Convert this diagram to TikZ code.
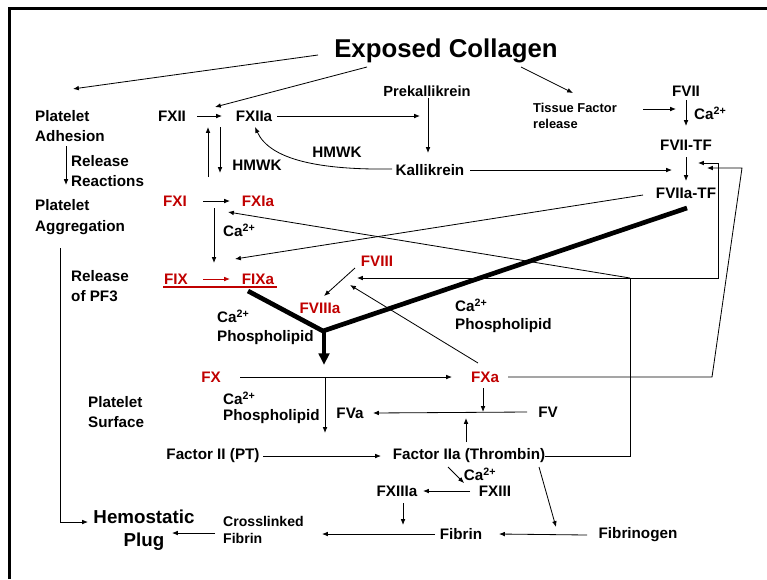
\documentclass[tikz,border=0pt]{standalone}
\usepackage{fontspec}
\setmainfont{Liberation Sans}
\usepackage{tikz}
\usetikzlibrary{arrows.meta}
\definecolor{fred}{RGB}{192,0,0}
\newcommand{\caion}{Ca\textsuperscript{2+}}

\begin{document}
\begin{tikzpicture}[x=0.03cm, y=-0.03cm,
	lbl/.style={font=\bfseries\fontsize{13}{17.5}\selectfont, inner sep=0pt, align=left},
	fac/.style={lbl, text=fred},
	arr/.style={-{Latex[length=5pt,width=4pt]}, line width=0.7pt},
	heavy/.style={line width=4pt, line join=miter},
	bigarr/.style={-{Triangle[length=10pt,width=9pt]}, line width=3.5pt}]
	\useasboundingbox (0,0) rectangle (767,579);
	\draw[line width=2.6pt] (9.5,579) -- (9.5,8.5) -- (767,8.5);

	\node[lbl, font=\bfseries\fontsize{22}{26}\selectfont] (coll) at (446,51) {Exposed Collagen};
	\node[lbl, anchor=west] (padh) at (35,126) {Platelet\\Adhesion};
	\node[lbl, anchor=west] (rel) at (71,171) {Release\\Reactions};
	\node[lbl, anchor=west] (pagg) at (35,217) {Platelet\\Aggregation};
	\node[lbl, anchor=west] (pf3) at (71,286) {Release\\of PF3};
	\node[lbl, anchor=west] (psurf) at (88,412) {Platelet\\Surface};
	\node[lbl, align=center, font=\bfseries\fontsize{16}{19.6}\selectfont] (plug) at (144,530) {Hemostatic\\Plug};
	\node[lbl, anchor=west, font=\bfseries\fontsize{12}{14.5}\selectfont] (xfib) at (223,530) {Crosslinked\\Fibrin};

	\node[lbl] (fxii) at (172,116) {FXII};
	\node[lbl] (fxiia) at (254,116) {FXIIa};
	\node[lbl, font=\bfseries\fontsize{12.5}{15}\selectfont] (prek) at (427,91) {Prekallikrein};
	\node[lbl] (kall) at (430,170) {Kallikrein};
	\node[lbl] (hmwka) at (257,165) {HMWK};
	\node[lbl] (hmwkb) at (337,152) {HMWK};
	\node[lbl, anchor=west, font=\bfseries\fontsize{11}{13.7}\selectfont] (tf) at (533,116) {Tissue Factor\\release};
	\node[lbl] (fvii) at (686,91) {FVII};
	\node[lbl, anchor=west] (caa) at (694,113) {\caion};
	\node[lbl] (fviitf) at (686,145) {FVII-TF};
	\node[lbl] (fviiatf) at (686,193) {FVIIa-TF};

	\node[fac] (fxi) at (175,201) {FXI};
	\node[fac] (fxia) at (258,201) {FXIa};
	\node[lbl, anchor=west] (cab) at (223,230) {\caion};
	\node[fac] (fix) at (176,279) {FIX};
	\node[fac] (fixa) at (258,279) {FIXa};
	\node[fac] (fviii) at (377,261) {FVIII};
	\node[fac] (fviiia) at (320,308) {FVIIIa};
	\node[lbl, anchor=west, font=\bfseries\fontsize{13}{16.2}\selectfont] (cpa) at (217,327) {\caion\\Phospholipid};
	\node[lbl, anchor=west, font=\bfseries\fontsize{13}{15.4}\selectfont] (cpb) at (455,316) {\caion\\Phospholipid};

	\node[fac] (fx) at (211,377) {FX};
	\node[fac] (fxa) at (485,377) {FXa};
	\node[lbl, anchor=west, font=\bfseries\fontsize{13}{13.7}\selectfont] (cpc) at (223,408) {\caion\\Phospholipid};
	\node[lbl] (fva) at (350,413) {FVa};
	\node[lbl] (fv) at (548,412) {FV};
	\node[lbl] (fii) at (213,456) {Factor II (PT)};
	\node[lbl] (fiia) at (469,456) {Factor IIa (Thrombin)};
	\node[lbl] (cac) at (480,474) {\caion};
	\node[lbl] (fxiii) at (495,491) {FXIII};
	\node[lbl] (fxiiia) at (397,491) {FXIIIa};
	\node[lbl] (fibrin) at (461,534) {Fibrin};
	\node[lbl] (fbgn) at (638,535) {Fibrinogen};

	\coordinate (thr) at (630,278);
	\coordinate (tenase) at (323,331);

	\draw[arr] ([shift={(-128,4)}]coll.center) -- ([shift={(38,-21)}]padh.north west);
	\draw[arr] ([shift={(-79,16)}]coll.center) -- ([shift={(43,-9)}]fxii.center);
	\draw[arr] ([shift={(75,16)}]coll.center) -- ([shift={(40,-23)}]tf.west);
	\draw[arr] ([shift={(31,20)}]padh.west) -- ([shift={(31,-32)}]pagg.west);
	\draw[arr] ([shift={(25,31)}]pagg.west) |- ([shift={(-56,-8)}]plug.center);

	\draw[arr] ([shift={(25,0)}]fxii.center) -- ([shift={(-32,0)}]fxiia.center);
	\draw[arr] ([shift={(33,-24)}]fxi.center) -- ([shift={(36,11)}]fxii.center);
	\draw[arr] ([shift={(-34,11)}]fxiia.center) -- ([shift={(-38,-28)}]fxia.center);
	\draw[arr] ([shift={(23,0)}]fxiia.center) -- ([shift={(-7,25)}]prek.center);
	\draw[arr] ([shift={(1,7)}]prek.center) -- ([shift={(-2,-17)}]kall.center);
	\draw[arr] ([shift={(-38,-1)}]kall.center) .. controls (320,170) and (270,160) .. ([shift={(1,11)}]fxiia.center);
	\draw[arr] ([shift={(40,0)}]kall.center) -- ([shift={(-14,-23)}]fviiatf.center);

	\draw[arr] ([shift={(110,-7)}]tf.west) -- ([shift={(-10,18)}]fvii.center);
	\draw[arr] ([shift={(0,9)}]fvii.center) -- ([shift={(0,-19)}]fviitf.center);
	\draw[arr] ([shift={(0,12)}]fviitf.center) -- ([shift={(0,-12)}]fviiatf.center);

	\draw[arr] ([shift={(28,0)}]fxi.center) -- ([shift={(-28,0)}]fxia.center);
	\draw[arr] ([shift={(-44,7)}]fxia.center) -- ([shift={(38,-16)}]fix.center);
	\draw[arr] ([shift={(-43,2)}]fviiatf.center) -- ([shift={(-23,-20)}]fixa.center);
	\draw[arr, fred] ([shift={(27,0)}]fix.center) -- ([shift={(-28,0)}]fixa.center);
	\draw[fred, line width=1.1pt] ([shift={(-13,8)}]fix.center) -- ([shift={(19,8)}]fixa.center);

	\draw[line width=0.7pt] (fiia.east) -| (thr);
	\draw[arr] (thr) -- ([shift={(-30,11)}]fxia.center);
	\draw[arr] (thr) -- ([shift={(-20,17)}]fviii.center);
	\draw[arr] (thr) -- ++(88,0) |- ([shift={(12,18)}]fviitf.center);
	\draw[arr] ([shift={(23,0)}]fxa.center) -- ++(204,0) -- ++(30,-209) -- ([shift={(21,23)}]fviitf.center);
	\draw[arr] ([shift={(-7,-14)}]fxa.center) -- ([shift={(-27,24)}]fviii.center);
	\draw[arr] ([shift={(-22,7)}]fviii.center) -- ([shift={(4,-12)}]fviiia.center);

	\draw[heavy] ([shift={(-10,12)}]fixa.center) -- (tenase) -- ([shift={(1,15)}]fviiatf.center);
	\draw[bigarr] ([shift={(1,1)}]tenase) -- ++(0,33);

	\draw[arr] ([shift={(29,0)}]fx.center) -- ([shift={(-33,0)}]fxa.center);
	\draw[arr] ([shift={(114,0)}]fx.center) -- ++(0,56);
	\draw[arr] ([shift={(-2,11)}]fxa.center) -- ++(0,24);
	\draw[arr] ([shift={(-21,0)}]fv.center) -- ([shift={(23,0)}]fva.center);
	\draw[arr] ([shift={(-3,-14)}]fiia.center) -- ++(0,-24);
	\draw[arr] ([shift={(50,0)}]fii.center) -- ([shift={(-88,0)}]fiia.center);

	\draw[arr] ([shift={(70,11)}]fiia.center) -- ([shift={(-82,-8)}]fbgn.center);
	\draw[arr] ([shift={(-21,11)}]fiia.center) -- ([shift={(-31,-8)}]fxiii.center);
	\draw[arr] ([shift={(-25,0)}]fxiii.center) -- ([shift={(26,0)}]fxiiia.center);
	\draw[arr] ([shift={(6,12)}]fxiiia.center) -- ++(0,22);
	\draw[arr] ([shift={(-51,0)}]fbgn.center) -- ([shift={(38,0)}]fibrin.center);
	\draw[arr] ([shift={(-26,0)}]fibrin.center) -- ([shift={(99,4)}]xfib.west);
	\draw[arr] ([shift={(-8,3)}]xfib.west) -- ([shift={(28,3)}]plug.center);
\end{tikzpicture}
\end{document}
